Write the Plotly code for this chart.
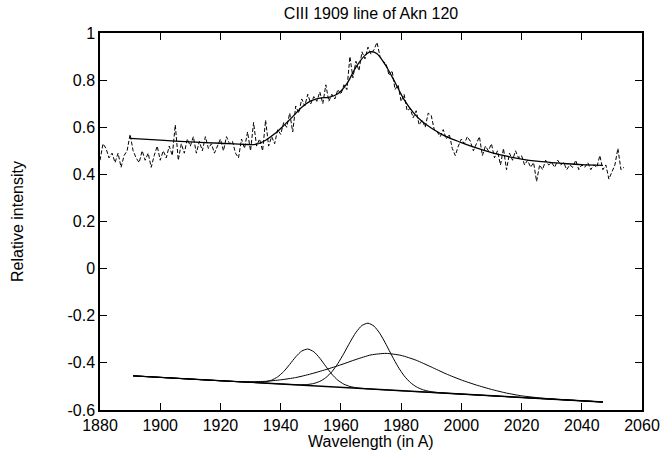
import plotly.graph_objects as go

# ---- observed spectrum (dashed), 1 A steps from 1880 to 2054 ----
obs_start = 1880
obs_flux = [
    0.46, 0.53, 0.51, 0.47, 0.49, 0.45, 0.49, 0.43, 0.48, 0.50,
    0.57, 0.50, 0.47, 0.45, 0.50, 0.46, 0.49, 0.43, 0.48, 0.52,
    0.46, 0.50, 0.47, 0.52, 0.48, 0.61, 0.46, 0.53, 0.49, 0.55,
    0.52, 0.56, 0.49, 0.54, 0.50, 0.56, 0.51, 0.53, 0.49, 0.52,
    0.55, 0.50, 0.56, 0.53, 0.54, 0.49, 0.47, 0.55, 0.51, 0.58,
    0.50, 0.62, 0.52, 0.55, 0.50, 0.63, 0.52, 0.56, 0.53, 0.59,
    0.57, 0.62, 0.60, 0.66, 0.58, 0.69, 0.66, 0.72, 0.69, 0.74,
    0.70, 0.73, 0.71, 0.75, 0.70, 0.78, 0.71, 0.74, 0.72, 0.76,
    0.74, 0.78, 0.76, 0.90, 0.81, 0.88, 0.84, 0.92, 0.89, 0.94,
    0.91, 0.93, 0.96, 0.90, 0.88, 0.87, 0.82, 0.84, 0.76, 0.78,
    0.71, 0.74, 0.67, 0.68, 0.64, 0.67, 0.61, 0.63, 0.60, 0.66,
    0.65, 0.59, 0.58, 0.56, 0.59, 0.55, 0.57, 0.51, 0.48, 0.52,
    0.55, 0.53, 0.56, 0.54, 0.50, 0.53, 0.56, 0.48, 0.52, 0.50,
    0.53, 0.47, 0.50, 0.44, 0.51, 0.42, 0.49, 0.46, 0.50, 0.47,
    0.48, 0.44, 0.46, 0.43, 0.45, 0.37, 0.44, 0.42, 0.46, 0.44,
    0.45, 0.43, 0.46, 0.44, 0.45, 0.42, 0.44, 0.43, 0.46, 0.42,
    0.44, 0.43, 0.45, 0.42, 0.44, 0.43, 0.48, 0.42, 0.44, 0.38,
    0.41, 0.44, 0.51, 0.42, 0.43,
]
obs_wave = [obs_start + i for i in range(len(obs_flux))]

# ---- total fit (solid) ----
fit_wave = [1890, 1900, 1910, 1920, 1928, 1932, 1935, 1938, 1941, 1944,
            1947, 1950, 1953, 1956, 1959, 1962, 1965, 1968, 1970, 1972,
            1975, 1978, 1981, 1984, 1987, 1990, 1995, 2000, 2005, 2010,
            2015, 2020, 2025, 2030, 2035, 2040, 2047]
fit_flux = [0.553, 0.545, 0.538, 0.532, 0.527, 0.528, 0.545, 0.572, 0.607, 0.645,
            0.685, 0.712, 0.724, 0.727, 0.742, 0.785, 0.855, 0.905, 0.921, 0.912,
            0.860, 0.790, 0.717, 0.663, 0.624, 0.597, 0.560, 0.535, 0.512, 0.492,
            0.477, 0.465, 0.456, 0.450, 0.445, 0.441, 0.438]

# ---- continuum (linear baseline) ----
base_wave = [1891, 2047]
base_flux = [-0.455, -0.566]

# ---- component 1 (narrow, 1949 A) ----
c1_wave = [1891, 1929, 1931, 1933, 1935, 1937, 1939, 1941, 1943, 1945, 1947,
           1949, 1951, 1953, 1955, 1957, 1959, 1961, 1963, 1965, 1967, 1969, 2047]
c1_flux = [-0.455, -0.482, -0.4828, -0.4826, -0.4802, -0.4733, -0.4594, -0.4368,
           -0.4065, -0.3744, -0.3498, -0.3413, -0.3527, -0.3801, -0.4150, -0.4481,
           -0.4737, -0.4904, -0.5001, -0.5053, -0.5083, -0.5103, -0.566]

# ---- component 2 (narrow, 1969 A) ----
c2_wave = [1891, 1945, 1947, 1949, 1951, 1953, 1955, 1957, 1959, 1961, 1963,
           1965, 1967, 1969, 1971, 1973, 1975, 1977, 1979, 1981, 1983, 1985,
           1987, 1989, 1991, 1993, 2047]
c2_flux = [-0.455, -0.4926, -0.4928, -0.4916, -0.4875, -0.4786, -0.4627, -0.4377,
           -0.4028, -0.3596, -0.3130, -0.2706, -0.2412, -0.2315, -0.2441, -0.2763,
           -0.3215, -0.3710, -0.4170, -0.4548, -0.4826, -0.5013, -0.5131, -0.5200,
           -0.5241, -0.5267, -0.566]

# ---- component 3 (broad, 1975 A) ----
c3_wave = [1891, 1925, 1930, 1935, 1940, 1945, 1950, 1955, 1960, 1965, 1970,
           1975, 1980, 1985, 1990, 1995, 2000, 2005, 2010, 2015, 2020, 2025,
           2030, 2047]
c3_flux = [-0.455, -0.4792, -0.4798, -0.4783, -0.4719, -0.4624, -0.4470, -0.4285,
           -0.4081, -0.3856, -0.3662, -0.3597, -0.3683, -0.3888, -0.4174, -0.4470,
           -0.4725, -0.4941, -0.5126, -0.5282, -0.5398, -0.5473, -0.5529, -0.566]

# ---- axes ----
x_ticks = [1880, 1900, 1920, 1940, 1960, 1980, 2000, 2020, 2040, 2060]
x_tick_labels = [str(v) for v in x_ticks]
y_ticks = [-0.6, -0.4, -0.2, 0, 0.2, 0.4, 0.6, 0.8, 1]
y_tick_labels = ["-0.6", "-0.4", "-0.2", "0", "0.2", "0.4", "0.6", "0.8", "1"]

title_text = "CIII 1909 line of Akn 120"
x_title = "Wavelength (in A)"
y_title = "Relative intensity"

fig = go.Figure()
fig.add_trace(go.Scatter(x=obs_wave, y=obs_flux, mode="lines",
                         line=dict(color="black", width=1, dash="4px,2px"),
                         showlegend=False, hoverinfo="skip"))
fig.add_trace(go.Scatter(x=fit_wave, y=fit_flux, mode="lines",
                         line=dict(color="black", width=1.3, shape="spline", smoothing=0.8),
                         showlegend=False))
fig.add_trace(go.Scatter(x=base_wave, y=base_flux, mode="lines",
                         line=dict(color="black", width=1.4),
                         showlegend=False))
for wv, fl in ((c1_wave, c1_flux), (c2_wave, c2_flux), (c3_wave, c3_flux)):
    fig.add_trace(go.Scatter(x=wv, y=fl, mode="lines",
                             line=dict(color="black", width=1, shape="spline", smoothing=0.6),
                             showlegend=False))

axis_common = dict(
    showline=True, linecolor="black", linewidth=1.5, mirror="ticks",
    ticks="inside", ticklen=7, tickwidth=1, tickcolor="black",
    showgrid=False, zeroline=False,
    tickfont=dict(family="Liberation Sans", size=16, color="black"),
)

fig.update_xaxes(range=[1880, 2060], tickvals=x_ticks, ticktext=x_tick_labels,
                 **axis_common)
fig.update_yaxes(range=[-0.6, 1], tickvals=y_ticks, ticktext=y_tick_labels,
                 **axis_common)

fig.update_layout(
    width=672, height=458,
    margin=dict(l=100, r=20, t=33, b=48),
    paper_bgcolor="white", plot_bgcolor="white",
    font=dict(family="Liberation Sans", size=16, color="black"),
    title=dict(text=title_text, x=0.5, xref="paper", y=1 - 13 / 458,
               yref="container", yanchor="middle",
               font=dict(family="Liberation Sans", size=16, color="black")),
    annotations=[
        dict(text=x_title, xref="paper", yref="paper", x=0.5, y=-(441 - 410) / 377,
             showarrow=False, yanchor="middle", xanchor="center",
             font=dict(family="Liberation Sans", size=16, color="black")),
        dict(text=y_title, xref="paper", yref="paper", x=-(100 - 16) / 552, y=0.5,
             showarrow=False, textangle=-90, xanchor="center", yanchor="middle",
             font=dict(family="Liberation Sans", size=16, color="black")),
    ],
)

fig.write_html("out.html")
